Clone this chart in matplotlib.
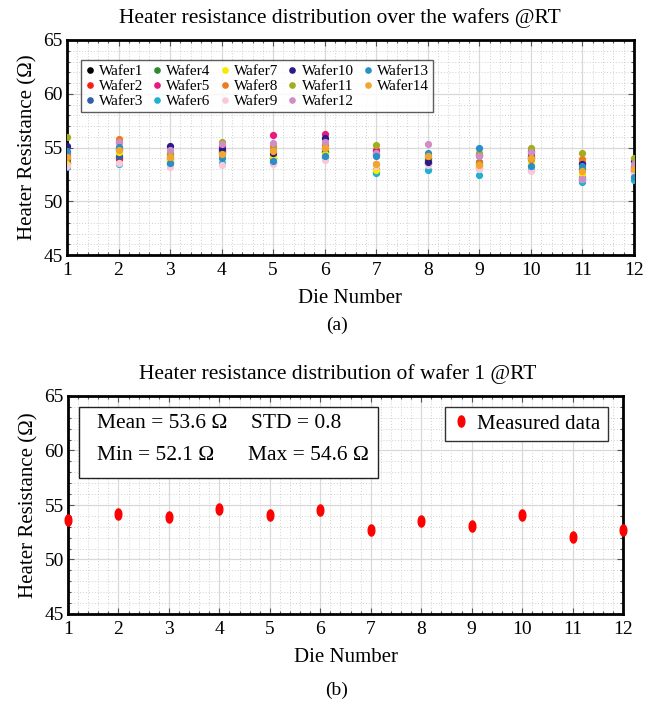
import numpy as np
import matplotlib
matplotlib.use("Agg")
import matplotlib.pyplot as plt
from matplotlib.path import Path
from matplotlib.patches import Rectangle
from matplotlib.ticker import MultipleLocator

plt.rcParams['font.family'] = ['Liberation Serif', 'DejaVu Serif']
plt.rcParams['mathtext.fontset'] = 'stix'

dies = list(range(1, 13))
wafer_names = [f"Wafer{i}" for i in range(1, 15)]
wafer_colors = ['#000000', '#ff1a1a', '#2f5fa8', '#2e8b2e', '#e8197f', '#1fb1d3',
                '#f7ea00', '#f07a1e', '#f9c9d9', '#2b1a87', '#a3ad1e', '#d18ec6',
                '#2a8fc7', '#f2a62f']

wafer1 = [53.6, 54.15, 53.9, 54.6, 54.05, 54.55, 52.75, 53.55, 53.1, 54.05, 52.1, 52.7]
wafer2 = [53.9, 53.9, 54.1, 54.65, 54.3, 54.9, 54.75, 53.8, 53.5, 54.2, 53.6, 52.8]
wafer3 = [53.6, 54.2, 53.6, 54.4, 53.6, 54.6, 53.0, 53.7, 53.3, 54.0, 52.3, 52.9]
wafer4 = [54.3, 54.8, 54.4, 54.9, 54.0, 54.7, 54.3, 53.9, 53.65, 54.2, 53.0, 53.3]
wafer5 = [54.5, 55.5, 53.8, 55.1, 56.2, 56.3, 54.7, 53.6, 54.3, 54.5, 53.5, 53.1]
wafer6 = [53.2, 53.5, 53.5, 53.55, 53.65, 54.1, 52.6, 52.95, 52.45, 52.95, 51.8, 52.0]
wafer7 = [53.5, 54.6, 53.85, 54.1, 54.1, 54.4, 52.9, 53.5, 53.1, 53.65, 52.5, 52.5]
wafer8 = [54.1, 55.75, 54.1, 54.7, 55.1, 55.2, 53.5, 54.25, 53.6, 53.95, 53.95, 53.15]
wafer9 = [53.3, 53.6, 53.2, 53.35, 53.45, 53.8, 53.3, 53.35, 53.0, 52.8, 52.1, 52.6]
wafer10 = [55.1, 54.9, 55.1, 54.9, 54.5, 55.9, 54.4, 53.65, 54.3, 54.7, 53.5, 53.7]
wafer11 = [56.0, 55.0, 54.5, 55.5, 54.8, 55.0, 55.2, 54.3, 54.5, 54.95, 54.5, 54.0]
wafer12 = [54.6, 55.5, 54.8, 55.3, 55.4, 55.5, 54.5, 55.3, 54.2, 54.6, 52.1, 53.5]
wafer13 = [54.7, 55.05, 53.6, 54.0, 53.7, 54.2, 54.2, 54.45, 54.95, 53.3, 53.25, 52.3]
wafer14 = [54.1, 54.8, 54.1, 54.35, 54.65, 55.0, 53.5, 54.2, 53.4, 54.0, 52.8, 53.0]
wafers = [wafer1, wafer2, wafer3, wafer4, wafer5, wafer6, wafer7,
          wafer8, wafer9, wafer10, wafer11, wafer12, wafer13, wafer14]

stat_labels = ["Mean = 53.6 Ω", "STD = 0.8", "Min = 52.1 Ω", "Max = 54.6 Ω"]

FS = 15

fig = plt.figure(figsize=(6.59, 7.05), dpi=100)
ax1 = fig.add_axes([67/659, 1-255/705, (634-67)/659, 215/705])
ax2 = fig.add_axes([68/659, 1-614/705, (623-68)/659, 218/705])


def style(ax):
    ax.set_xlim(1, 12)
    ax.set_ylim(45, 65)
    ax.set_xticks(dies)
    ax.set_yticks([45, 50, 55, 60, 65])
    ax.xaxis.set_minor_locator(MultipleLocator(0.2))
    ax.yaxis.set_minor_locator(MultipleLocator(1))
    ax.grid(which='major', color='#d8d8d8', lw=0.9, ls='-')
    ax.grid(which='minor', color='#cfcfcf', lw=0.7, ls=(0, (1, 2)))
    ax.set_axisbelow(True)
    ax.tick_params(which='both', direction='in', top=True, right=True,
                   labelsize=FS-1, width=0.8, color='#555555')
    ax.tick_params(axis='x', pad=5)
    ax.tick_params(axis='y', pad=3)
    ax.tick_params(which='major', length=4)
    ax.tick_params(which='minor', length=2)
    for s in ax.spines.values():
        s.set_linewidth(2.0)
    ax.set_xlabel("Die Number", fontsize=FS, labelpad=7)
    ax.set_ylabel("Heater Resistance (Ω)", fontsize=FS, labelpad=4)


style(ax1)
for name, col, vals in zip(wafer_names, wafer_colors, wafers):
    ax1.plot(dies, vals, ls='none', marker='o', ms=4.2, color=col, label=name,
             zorder=3)
ax1.set_title("Heater resistance distribution over the wafers @RT", fontsize=15.5,
              pad=12, x=0.481)
leg1 = ax1.legend(ncol=5, loc='upper left', bbox_to_anchor=(0.025, 0.905),
                  fontsize=11, frameon=True, fancybox=False, edgecolor='#333333',
                  handlelength=0.6, handletextpad=0.3, columnspacing=0.62,
                  labelspacing=0.1, borderpad=0.25, markerscale=0.9,
                  borderaxespad=0)
leg1.get_frame().set_linewidth(1.0)

# ellipse marker
t = np.linspace(0, 2*np.pi, 60)
verts = np.column_stack([0.6*np.cos(t), np.sin(t)])
ellipse = Path(verts, closed=True)

style(ax2)
ax2.plot(dies, wafer1, ls='none', marker=ellipse, ms=8, color='#ff0000',
         label='Measured data', clip_on=False, zorder=4)
ax2.set_title("Heater resistance distribution of wafer 1 @RT", fontsize=15.5,
              pad=12, x=0.486)
leg2 = ax2.legend(loc='upper right', bbox_to_anchor=(0.973, 0.95), fontsize=FS,
                  fancybox=False, edgecolor='#333333', handlelength=0.8,
                  handletextpad=0.4, borderpad=0.35, borderaxespad=0, framealpha=1)
leg2.get_frame().set_linewidth(1.0)

ax2.add_patch(Rectangle((0.0198, 0.624), 0.5388, 0.326, transform=ax2.transAxes,
                        fc='white', ec='#222222', lw=1.0, zorder=5))
stat_pos = [(0.0523, 0.876), (0.3297, 0.876), (0.0523, 0.725), (0.3243, 0.725)]
for lab, (xx, yy) in zip(stat_labels, stat_pos):
    ax2.text(xx, yy, lab, transform=ax2.transAxes, fontsize=15.5,
             va='center', ha='left', zorder=6)

fig.text(337/659, 1-325/705, "(a)", ha='center', va='center', fontsize=FS-1)
fig.text(337/659, 1-690/705, "(b)", ha='center', va='center', fontsize=FS-1)

fig.savefig("out.png", dpi=100)
